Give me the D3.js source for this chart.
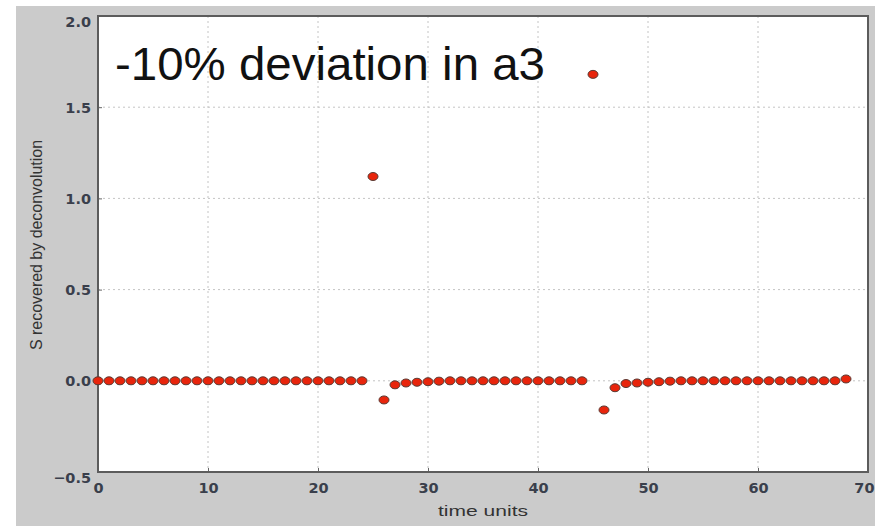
<!DOCTYPE html>
<html>
<head>
  <meta charset="utf-8">
  <title>-10% deviation in a3</title>
<style>
body { margin: 0; background: #fff; }
text { font-family: "Liberation Sans", Arial, Helvetica, sans-serif; }
.tick-label { font-family: "DejaVu Sans", Verdana, sans-serif; font-size: 14.5px; font-weight: bold; fill: #3a3f4c; }
.grid line { stroke: #c4c4c4; stroke-width: 1; stroke-dasharray: 2,3; }
.axis-title { fill: #333; }
.title { font-size: 46px; fill: #111; }
.pt { fill: #e8250c; stroke: #5a3a33; stroke-width: 1; }
</style>
</head>
<body>
  <svg id="chart" width="875" height="526"></svg>
  <script src="https://d3js.org/d3.v7.min.js"></script>
  <script>

// time index of each recovered sample
var times = d3.range(0, 69);

// S recovered by deconvolution
var sValues = [
  0, 0, 0, 0, 0, 0, 0, 0, 0, 0,
  0, 0, 0, 0, 0, 0, 0, 0, 0, 0,
  0, 0, 0, 0, 0,
  1.12, -0.105, -0.022, -0.012, -0.008, -0.005, -0.002,
  0, 0, 0, 0, 0, 0, 0, 0, 0, 0, 0, 0, 0,
  1.68, -0.16, -0.038, -0.015, -0.012, -0.008, -0.005, -0.002,
  0, 0, 0, 0, 0, 0, 0, 0, 0, 0, 0, 0, 0, 0, 0,
  0.01
];

var xTicks = [0, 10, 20, 30, 40, 50, 60, 70];
var yTicks = [-0.5, 0, 0.5, 1.0, 1.5, 2.0];

var svg = d3.select("#chart");
var W = 875, H = 526;
var plot = { left: 98, top: 16, right: 868, bottom: 472 };

// grey page behind the axes
svg.append("rect").attr("x", 16).attr("y", 6)
  .attr("width", W - 16).attr("height", H - 6).attr("fill", "#cbcbcb");

var x = d3.scaleLinear().domain([0, 70]).range([plot.left, plot.right]);
var y = d3.scaleLinear().domain([-0.5, 2.0]).range([plot.bottom, plot.top]);

svg.append("rect")
  .attr("x", plot.left).attr("y", plot.top)
  .attr("width", plot.right - plot.left).attr("height", plot.bottom - plot.top)
  .attr("fill", "#fff");

// dotted grid
var grid = svg.append("g").attr("class", "grid");
grid.selectAll(".gx").data(xTicks.filter(function (d) { return d > 0 && d < 70; }))
  .enter().append("line")
  .attr("x1", function (d) { return x(d); }).attr("x2", function (d) { return x(d); })
  .attr("y1", plot.top).attr("y2", plot.bottom);
grid.selectAll(".gy").data(yTicks.filter(function (d) { return d > -0.5 && d < 2.0; }))
  .enter().append("line")
  .attr("y1", function (d) { return y(d); }).attr("y2", function (d) { return y(d); })
  .attr("x1", plot.left).attr("x2", plot.right);

// axes: ticks point inward, labels styled by hand
var fmt = function (d) { return d3.format(".1f")(d).replace("-", "\u2212"); };

var xAxis = svg.append("g").attr("transform", "translate(0," + plot.bottom + ")")
  .call(d3.axisBottom(x).tickValues(xTicks).tickSize(-4).tickPadding(9).tickFormat(d3.format("d")));
var yAxis = svg.append("g").attr("transform", "translate(" + plot.left + ",0)")
  .call(d3.axisLeft(y).tickValues(yTicks).tickSize(-4).tickPadding(7).tickFormat(fmt));

[xAxis, yAxis].forEach(function (a) {
  a.select(".domain").remove();
  a.selectAll(".tick line").attr("stroke", "#666");
  a.selectAll(".tick text").attr("class", "tick-label").attr("font-size", null).attr("font-family", null).attr("fill", null);
});
xAxis.selectAll(".tick text").attr("dy", "0.8em");
// last label sits at the window edge, keep it inside
xAxis.selectAll(".tick text").filter(function (d) { return d === 70; })
  .attr("text-anchor", "end").attr("x", W - plot.right - 1);
yAxis.selectAll(".tick text").attr("dy", function (d) {
  if (d === 2.0) return "0.75em";
  if (d === -0.5) return "0.75em";
  return "0.35em";
});

// frame
svg.append("rect")
  .attr("x", plot.left).attr("y", plot.top)
  .attr("width", plot.right - plot.left).attr("height", plot.bottom - plot.top)
  .attr("fill", "none").attr("stroke", "#5c5c5c").attr("stroke-width", 2);

// points
svg.append("g").selectAll("ellipse").data(times)
  .enter().append("ellipse")
  .attr("class", "pt")
  .attr("cx", function (d) { return x(d); })
  .attr("cy", function (d, i) { return y(sValues[i]); })
  .attr("rx", 5).attr("ry", 4);

// labels
svg.append("text").attr("class", "title")
  .attr("x", 115).attr("y", 80)
  .attr("textLength", 430).attr("lengthAdjust", "spacingAndGlyphs")
  .text("-10% deviation in a3");

svg.append("text").attr("class", "axis-title")
  .attr("x", 483).attr("y", 516)
  .attr("text-anchor", "middle").attr("font-size", 14)
  .attr("textLength", 90).attr("lengthAdjust", "spacingAndGlyphs")
  .text("time units");

svg.append("text").attr("class", "axis-title")
  .attr("transform", "translate(42,245) rotate(-90)")
  .attr("text-anchor", "middle").attr("font-size", 16)
  .attr("textLength", 210).attr("lengthAdjust", "spacingAndGlyphs")
  .text("S recovered by deconvolution");

  </script>
</body>
</html>
